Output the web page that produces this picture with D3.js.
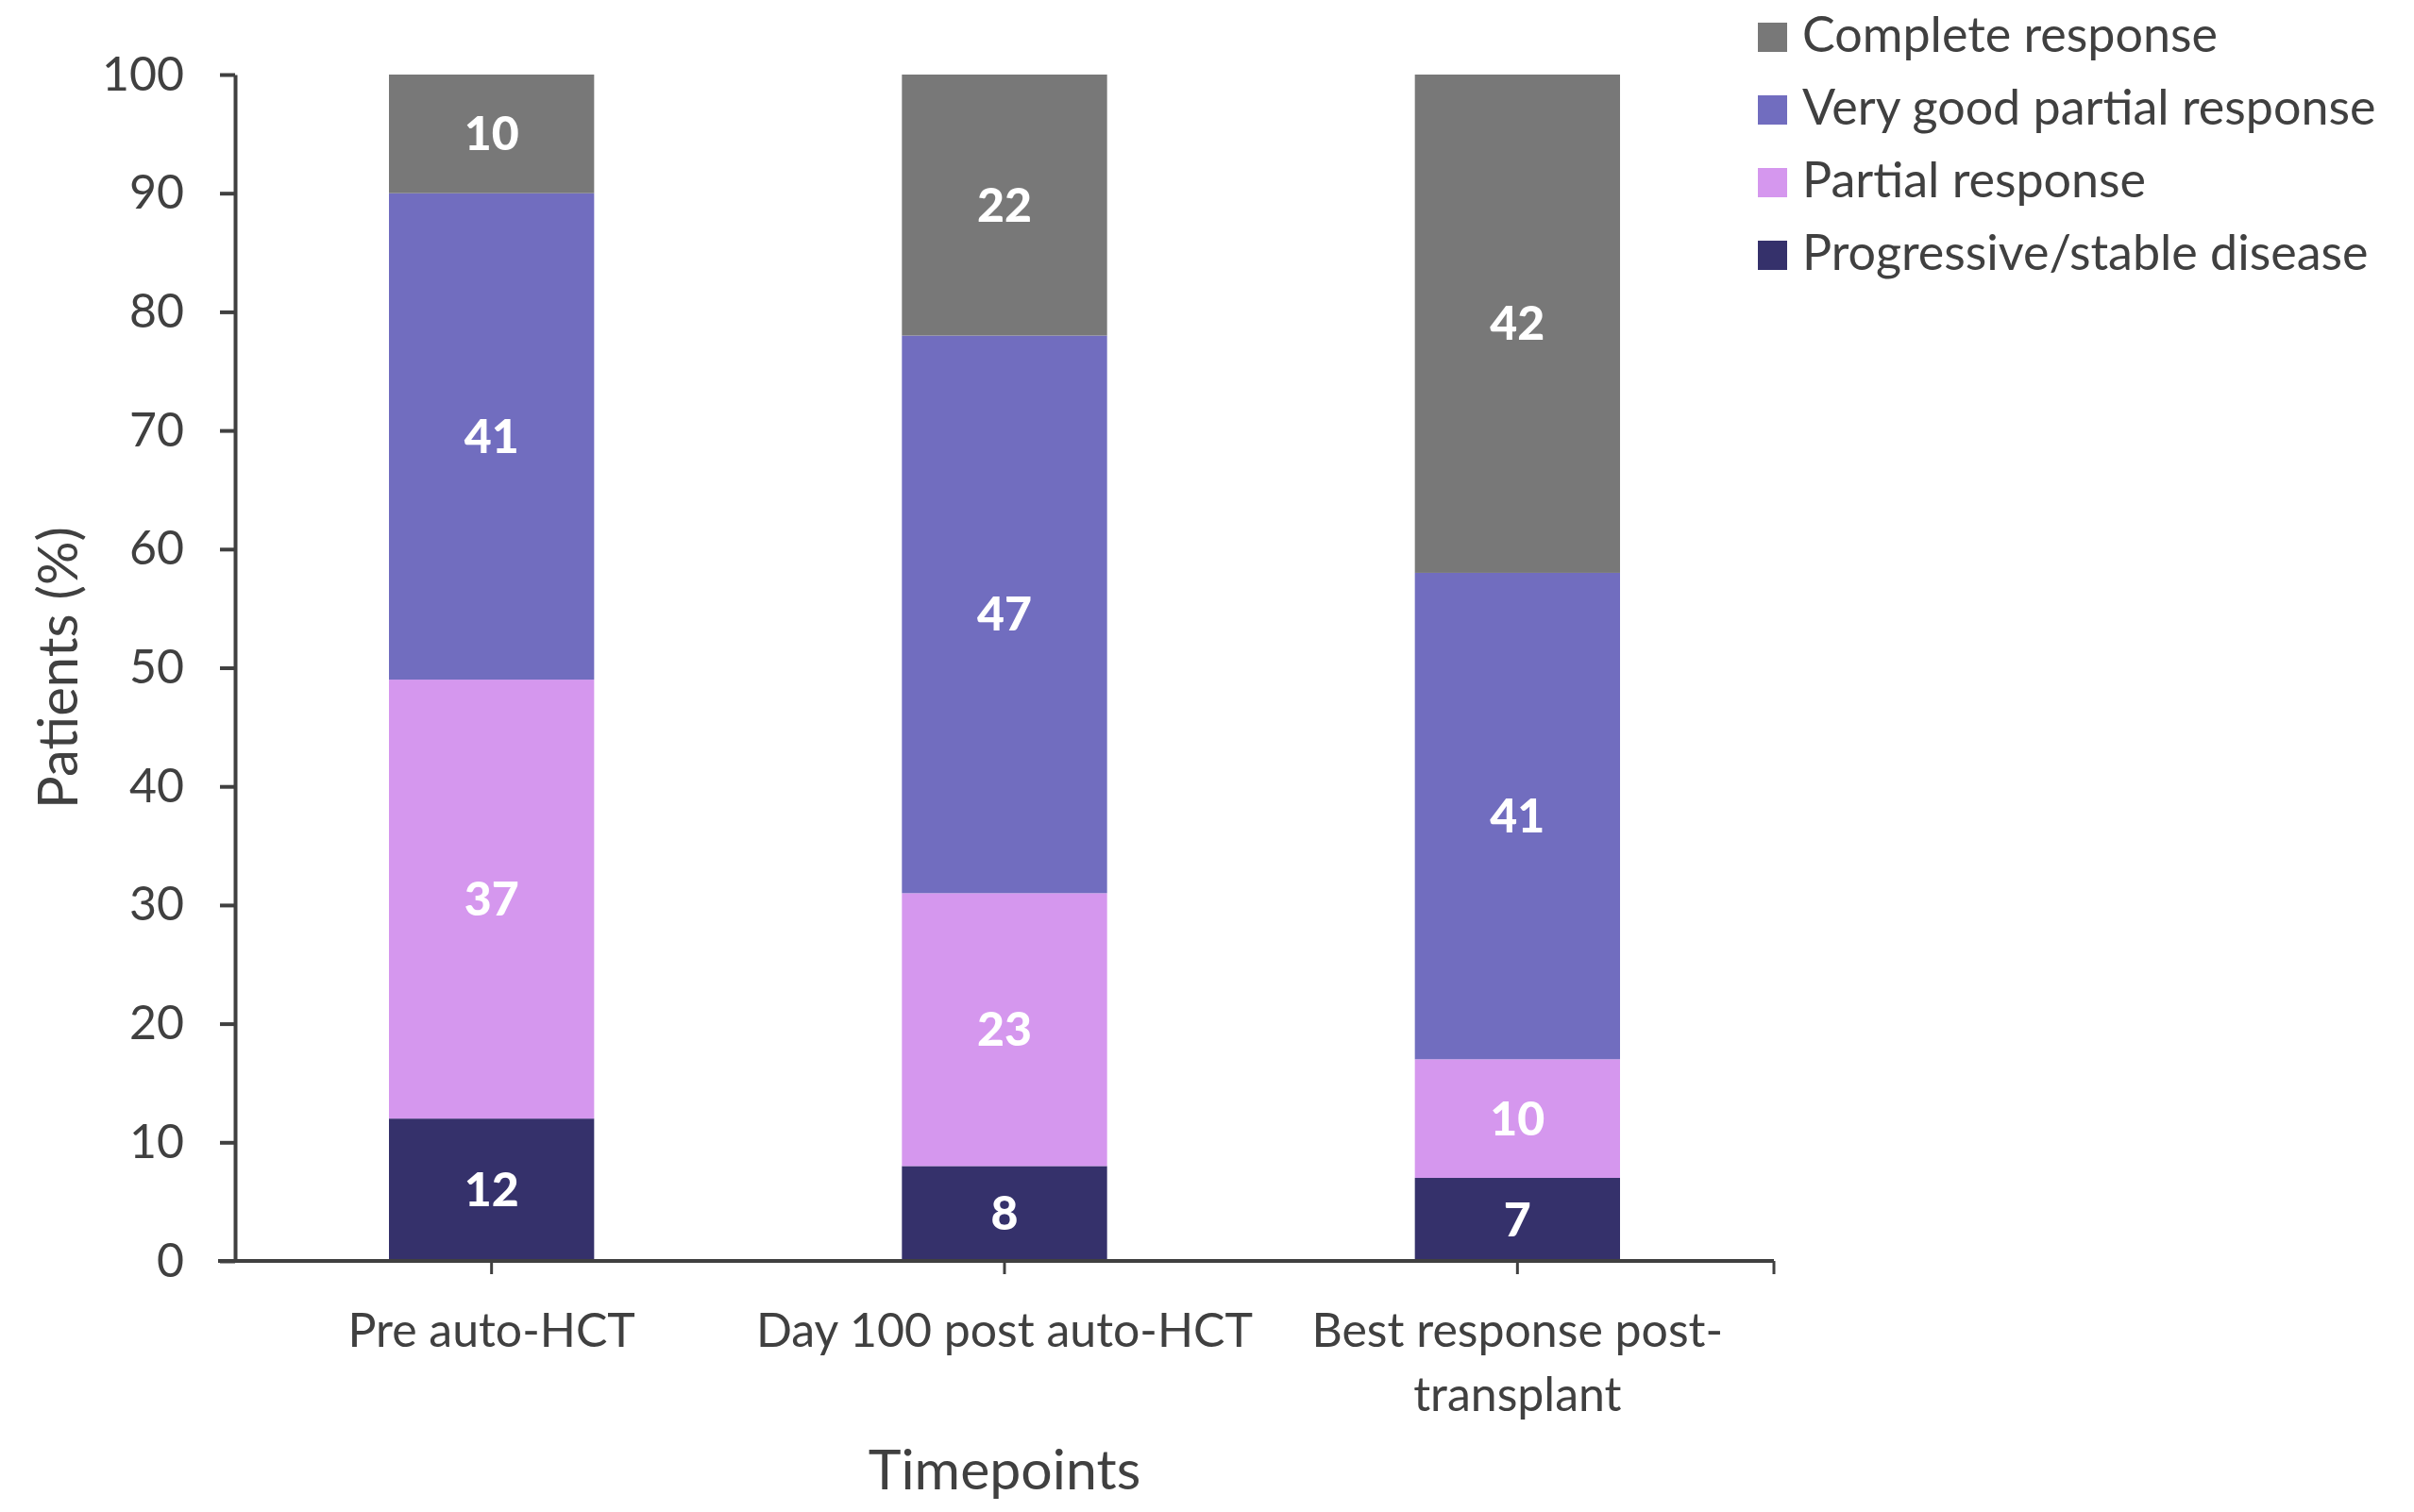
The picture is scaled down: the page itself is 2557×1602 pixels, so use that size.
<!DOCTYPE html>
<html>
<head>
<meta charset="utf-8">
<script src="https://cdn.jsdelivr.net/npm/d3@7"></script>
<style>
  body { margin: 0; background: #fff; }
  text { font-family: "Source Sans Pro", Lato, sans-serif; fill: #404040; }
</style>
</head>
<body>
<div id="chart"></div>
<script>
var width = 2557,
height = 1602;

// data
var categories = ['Pre auto-HCT', 'Day 100 post auto-HCT', 'Best response post-transplant'];
var categoryLines = [['Pre auto-HCT'], ['Day 100 post auto-HCT'], ['Best response post-', 'transplant']];
var seriesNames = ['Progressive/stable disease', 'Partial response', 'Very good partial response', 'Complete response'];
var progressive = [12, 8, 7];
var partial = [37, 23, 10];
var veryGood = [41, 47, 41];
var complete = [10, 22, 42];
var yTicks = [0, 10, 20, 30, 40, 50, 60, 70, 80, 90, 100];

var colors = ['#35316b', '#d597ee', '#716dbf', '#787878'];
var seriesValues = [progressive, partial, veryGood, complete];

var plotLeft = 249, plotRight = 1879, plotTop = 79, plotBottom = 1336;

var table = categories.map((c, i) => {
  var row = { cat: c };
  seriesNames.forEach((s, j) => row[s] = seriesValues[j][i]);
  return row;
});

var stack = d3.stack().keys(seriesNames)(table);

const x = d3.scaleBand().
domain(categories).
range([plotLeft, plotRight]).
paddingInner(0.6).
paddingOuter(0.3);

const y = d3.scaleLinear().
domain([0, 100]).
range([plotBottom, plotTop]);

const svg = d3.select('#chart').
append('svg').
attr('width', width).
attr('height', height);

// stacked bars
const layers = svg.selectAll('g.layer').
data(stack).
enter().
append('g').
attr('class', 'layer').
attr('fill', (d, i) => colors[i]);

layers.selectAll('rect').
data(d => d).
enter().
append('rect').
attr('x', d => x(d.data.cat)).
attr('width', x.bandwidth()).
attr('y', d => y(d[1])).
attr('height', d => y(d[0]) - y(d[1]));

layers.selectAll('text').
data(d => d).
enter().
append('text').
attr('x', d => x(d.data.cat) + x.bandwidth() / 2).
attr('y', d => y((d[0] + d[1]) / 2)).
attr('dy', '0.35em').
attr('text-anchor', 'middle').
attr('font-size', '50px').
attr('font-weight', 900).
style('fill', '#fff').
text(d => d[1] - d[0]);

// y axis
const yAxis = d3.axisLeft(y).
tickValues(yTicks).
tickSize(16).
tickSizeOuter(0).
tickPadding(38);

const gy = svg.append('g').
attr('transform', 'translate(' + plotLeft + ',0)').
call(yAxis);
gy.select('.domain').attr('stroke', '#404040').attr('stroke-width', 4);
gy.selectAll('.tick line').attr('stroke', '#404040').attr('stroke-width', 4);
gy.selectAll('.tick text').
attr('font-size', '50px').
attr('font-family', null).
style('fill', '#404040');

// x axis
svg.append('line').
attr('x1', plotLeft - 18).
attr('x2', plotRight).
attr('y1', plotBottom).
attr('y2', plotBottom).
attr('stroke', '#404040').
attr('stroke-width', 4);

var xTickPos = categories.map(c => x(c) + x.bandwidth() / 2).concat([plotRight]);
svg.selectAll('line.xtick').
data(xTickPos).
enter().
append('line').
attr('class', 'xtick').
attr('x1', d => d).
attr('x2', d => d).
attr('y1', plotBottom).
attr('y2', plotBottom + 14).
attr('stroke', '#404040').
attr('stroke-width', 3);

svg.selectAll('text.xlabel').
data(categories).
enter().
append('text').
attr('class', 'xlabel').
attr('x', d => x(d) + x.bandwidth() / 2).
attr('y', 1427).
attr('text-anchor', 'middle').
attr('font-size', '50px').
each(function (d, i) {
  d3.select(this).selectAll('tspan').
  data(categoryLines[i]).
  enter().
  append('tspan').
  attr('x', x(d) + x.bandwidth() / 2).
  attr('dy', (l, k) => k == 0 ? 0 : 68).
  text(l => l);
});

// axis titles
svg.append('text').
attr('x', (plotLeft + plotRight) / 2).
attr('y', 1578).
attr('text-anchor', 'middle').
attr('font-size', '59px').
text('Timepoints');

svg.append('text').
attr('transform', 'translate(82,' + (plotTop + plotBottom) / 2 + ') rotate(-90)').
attr('text-anchor', 'middle').
attr('font-size', '58px').
text('Patients (%)');

// legend, top entry first
var legendOrder = seriesNames.slice().reverse();
var legendColors = colors.slice().reverse();

svg.selectAll('rect.legend').
data(legendOrder).
enter().
append('rect').
attr('class', 'legend').
attr('x', 1862).
attr('y', (d, i) => 24 + i * 77).
attr('width', 31).
attr('height', 31).
attr('fill', (d, i) => legendColors[i]);

svg.selectAll('text.legend').
data(legendOrder).
enter().
append('text').
attr('class', 'legend').
attr('x', 1909).
attr('y', (d, i) => 55 + i * 77).
attr('font-size', '52px').
text(d => d);
</script>
</body>
</html>
